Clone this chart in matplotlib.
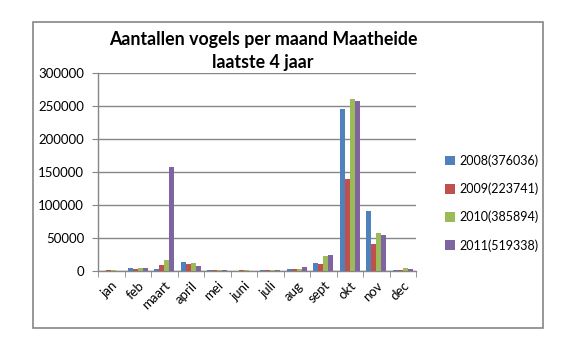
import matplotlib
matplotlib.use('Agg')
import matplotlib.pyplot as plt
import numpy as np
from matplotlib.patches import Rectangle, Patch

# Monthly bird counts at Maatheide, one list per year
months = ['jan', 'feb', 'maart', 'april', 'mei', 'juni',
          'juli', 'aug', 'sept', 'okt', 'nov', 'dec']
counts_2008 = [0, 4500, 3000, 14100, 1500, 0, 1500, 3000, 12600, 245000, 90700, 1500]
counts_2009 = [1500, 3000, 9000, 11000, 1500, 1000, 1500, 3000, 10600, 139600, 41300, 1500]
counts_2010 = [1500, 4500, 16600, 12100, 1500, 1000, 1500, 3000, 22700, 260100, 57500, 4500]
counts_2011 = [0, 4500, 157700, 7500, 1500, 0, 1500, 6500, 24700, 257000, 54900, 3000]
series_labels = ['2008(376036)', '2009(223741)', '2010(385894)', '2011(519338)']
colors = ['#4F81BD', '#C0504D', '#9BBB59', '#8064A2']

plt.rcParams['font.family'] = ['Lato', 'DejaVu Sans']

fig = plt.figure(figsize=(5.77, 3.5), dpi=100)
fig.patch.set_facecolor('white')

# outer chart border
fig.patches.append(Rectangle((32.5 / 577, 1 - 328 / 350), (543 - 32.5) / 577, (328 - 21.5) / 350,
                             transform=fig.transFigure, fill=False,
                             edgecolor='#868686', linewidth=1.2))

ax = fig.add_axes([98 / 577, 1 - 271 / 350, (416 - 98) / 577, (271 - 72.7) / 350])

x = np.arange(len(months))
width = 0.19
all_series = [counts_2008, counts_2009, counts_2010, counts_2011]
for i, (vals, col) in enumerate(zip(all_series, colors)):
    ax.bar(x + (i - 1.5) * width, vals, width, color=col, zorder=3)

ax.set_xlim(-0.5, len(months) - 0.5)
ax.set_ylim(0, 300000)
ax.set_yticks(np.arange(0, 300001, 50000))
ax.yaxis.grid(True, color='#868686', linewidth=1.0, zorder=0)

ax.set_xticks(x)
ax.set_xticklabels(months, rotation=45, ha='right', rotation_mode='anchor', fontsize=9.5)
ax.set_xticks(np.arange(-0.5, len(months)), minor=True)
ax.tick_params(axis='x', which='major', length=0, pad=6)
ax.tick_params(axis='x', which='minor', length=4, color='#868686', direction='out')
ax.tick_params(axis='y', length=4, color='#868686', labelsize=9.5, pad=6)

for side in ['top', 'right']:
    ax.spines[side].set_visible(False)
for side in ['left', 'bottom']:
    ax.spines[side].set_color('#868686')
    ax.spines[side].set_linewidth(1.0)

fig.text(263 / 577, 1 - 51 / 350, 'Aantallen vogels per maand Maatheide\nlaatste 4 jaar',
         ha='center', va='center', fontsize=12.8, fontweight='bold', linespacing=1.45)

handles = [Patch(facecolor=c, edgecolor='none') for c in colors]
fig.legend(handles, series_labels, loc='center left',
           bbox_to_anchor=(434 / 577, 1 - 203 / 350), frameon=False,
           fontsize=9, handlelength=0.8, handleheight=0.8,
           handletextpad=0.3, labelspacing=1.25)

fig.savefig('out.png', dpi=100, facecolor='white')
